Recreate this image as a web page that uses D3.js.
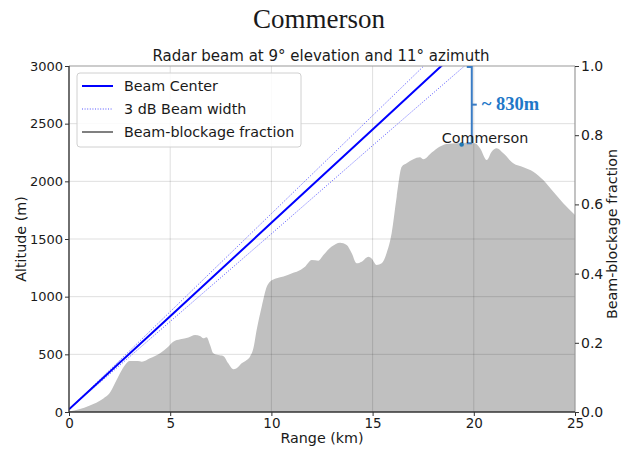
<!DOCTYPE html>
<html>
<head>
<meta charset="utf-8">
<script src="https://cdn.jsdelivr.net/npm/d3@7"></script>
<style>
  html, body { margin: 0; padding: 0; background: #fff; }
  svg text { font-family: "DejaVu Sans", sans-serif; fill: #1a1a1a; }
</style>
</head>
<body>
<svg id="chart" width="633" height="449"></svg>
<script>
// ---------- data ----------
const title = "Commerson";
const subtitle = "Radar beam at 9° elevation and 11° azimuth";

const terrainRange = [0, 1.0, 1.7, 2.0, 2.27, 2.52, 2.77, 3.0, 3.4, 3.6, 4.0, 4.5, 4.9, 5.15, 5.5, 5.9, 6.23, 6.47, 6.64, 6.8, 6.97, 7.13, 7.38, 7.62, 7.87, 8.12, 8.28, 8.53, 8.78, 8.94, 9.11, 9.27, 9.52, 9.77, 9.93, 10.26, 10.6, 11.08, 11.25, 11.66, 11.99, 12.32, 12.57, 12.98, 13.39, 13.72, 13.97, 14.21, 14.46, 14.79, 14.95, 15.2, 15.45, 15.69, 15.94, 16.19, 16.44, 16.68, 17.01, 17.34, 17.51, 17.92, 18.33, 18.66, 19.16, 19.65, 20.06, 20.31, 20.64, 20.88, 21.13, 21.46, 21.95, 22.45, 22.94, 23.43, 23.93, 24.42, 25];
const terrainAlt = [5, 55, 118, 162, 249, 335, 407, 442, 442, 436, 465, 509, 566, 610, 630, 647, 668, 659, 639, 648, 581, 509, 494, 486, 422, 370, 379, 422, 451, 480, 552, 711, 913, 1087, 1130, 1159, 1175, 1208, 1217, 1260, 1318, 1312, 1361, 1434, 1468, 1448, 1376, 1289, 1303, 1347, 1332, 1275, 1289, 1376, 1549, 1867, 2127, 2156, 2191, 2208, 2191, 2249, 2301, 2324, 2330, 2335, 2330, 2287, 2185, 2257, 2287, 2243, 2156, 2122, 2084, 2012, 1910, 1810, 1708];

const beamRange  = [0, 5, 10, 15, 20];
const beamCenter = [23, 830, 1640, 2450, 3260];
const beamUpper  = [23, 870, 1720, 2570, 3420];
const beamLower  = [23, 785, 1545, 2310, 3070];

const xTicks = [0, 5, 10, 15, 20, 25];
const yTicks = [0, 500, 1000, 1500, 2000, 2500, 3000];
const y2Ticks = [0, 0.2, 0.4, 0.6, 0.8, 1.0];

const legendLabels = ["Beam Center", "3 dB Beam width", "Beam-blockage fraction"];

const peakName = "Commerson";
const peakPoint = [19.4, 2320];           // range km, altitude m
const gapRange = 19.9;                    // where the gap is measured
const gapTop = 3000, gapBottom = 2330;
const gapLabel = "~ 830m";

// ---------- layout ----------
const svg = d3.select("#chart");
const X0 = 69, X1 = 575, Y0 = 66, Y1 = 412;
const x = d3.scaleLinear().domain([0, 25]).range([X0, X1]);
const y = d3.scaleLinear().domain([0, 3000]).range([Y1, Y0]);
const y2 = d3.scaleLinear().domain([0, 1]).range([Y1, Y0]);

svg.append("defs").append("clipPath").attr("id", "clip")
  .append("rect").attr("x", X0).attr("y", Y0).attr("width", X1 - X0).attr("height", Y1 - Y0);

// terrain
const terrain = terrainRange.map((r, i) => [r, terrainAlt[i]]);
svg.append("path").datum(terrain)
  .attr("clip-path", "url(#clip)")
  .attr("fill", "#c0c0c0")
  .attr("d", d3.area().x(d => x(d[0])).y0(y(0)).y1(d => y(d[1])).curve(d3.curveMonotoneX));

// grid
const grid = svg.append("g").attr("stroke", "rgba(0,0,0,0.13)").attr("stroke-width", 1);
xTicks.filter(t => t > 0 && t < 25).forEach(t => {
  grid.append("line").attr("x1", x(t)).attr("x2", x(t)).attr("y1", Y0).attr("y2", Y1);
});
yTicks.filter(t => t > 0 && t < 3000).forEach(t => {
  grid.append("line").attr("x1", X0).attr("x2", X1).attr("y1", y(t)).attr("y2", y(t));
});

// beams
const beamLine = d3.line().x(d => x(d[0])).y(d => y(d[1]));
const mk = arr => beamRange.map((r, i) => [r, arr[i]]);
const beams = svg.append("g").attr("clip-path", "url(#clip)");
beams.append("path").datum(mk(beamUpper)).attr("d", beamLine)
  .attr("fill", "none").attr("stroke", "#4444ff").attr("stroke-width", 0.9).attr("stroke-dasharray", "1,1.6");
beams.append("path").datum(mk(beamLower)).attr("d", beamLine)
  .attr("fill", "none").attr("stroke", "#4444ff").attr("stroke-width", 0.9).attr("stroke-dasharray", "1,1.6");
beams.append("path").datum(mk(beamCenter)).attr("d", beamLine)
  .attr("fill", "none").attr("stroke", "#0000ff").attr("stroke-width", 2);

// spines
svg.append("line").attr("x1", X0).attr("x2", X1).attr("y1", Y0).attr("y2", Y0).attr("stroke", "#9a9a9a").attr("stroke-width", 1.2);
svg.append("line").attr("x1", X1).attr("x2", X1).attr("y1", Y0).attr("y2", Y1).attr("stroke", "#9a9a9a").attr("stroke-width", 1.2);
svg.append("line").attr("x1", X0).attr("x2", X0).attr("y1", Y0).attr("y2", Y1 + 0.5).attr("stroke", "#333").attr("stroke-width", 1.4);
svg.append("line").attr("x1", X0).attr("x2", X1).attr("y1", Y1).attr("y2", Y1).attr("stroke", "#333").attr("stroke-width", 1.6);

// axes
const styleAxis = g => {
  g.select(".domain").remove();
  g.selectAll(".tick line").attr("stroke", "#333");
  g.selectAll(".tick text").attr("fill", "#1a1a1a").attr("font-family", "DejaVu Sans, sans-serif");
};
svg.append("g").attr("transform", `translate(0,${Y1})`)
  .call(d3.axisBottom(x).tickValues(xTicks).tickFormat(d3.format("d")).tickSize(4).tickPadding(2))
  .call(styleAxis).selectAll("text").attr("font-size", 13.5);
svg.append("g").attr("transform", `translate(${X0},0)`)
  .call(d3.axisLeft(y).tickValues(yTicks).tickFormat(d3.format("d")).tickSize(4).tickPadding(2))
  .call(styleAxis).selectAll("text").attr("font-size", 13);
svg.append("g").attr("transform", `translate(${X1},0)`)
  .call(d3.axisRight(y2).tickValues(y2Ticks).tickFormat(d3.format(".1f")).tickSize(4).tickPadding(2))
  .call(styleAxis).selectAll("text").attr("font-size", 14);

// axis labels
svg.append("text").attr("x", (X0 + X1) / 2).attr("y", 443).attr("text-anchor", "middle")
  .attr("font-size", 14.3).text("Range (km)");
svg.append("text").attr("transform", `translate(26,${(Y0 + Y1) / 2}) rotate(-90)`).attr("text-anchor", "middle")
  .attr("font-size", 14.3).text("Altitude (m)");
svg.append("text").attr("transform", `translate(617,${(Y0 + Y1) / 2 - 5}) rotate(-90)`).attr("text-anchor", "middle")
  .attr("font-size", 14.3).text("Beam-blockage fraction");

// titles
svg.append("text").attr("x", 321).attr("y", 61).attr("text-anchor", "middle")
  .attr("font-size", 15).text(subtitle);
svg.append("text").attr("x", 319).attr("y", 28).attr("text-anchor", "middle")
  .attr("font-size", 27).style("font-family", "'Liberation Serif', 'Times New Roman', serif").attr("fill", "#000").text(title);

// annotation
const annC = "#3a7cc4";
const gx = x(gapRange);
const ann = svg.append("g").attr("stroke", annC).attr("stroke-width", 2).attr("fill", "none");
ann.append("line").attr("x1", gx).attr("x2", gx).attr("y1", y(gapTop)).attr("y2", y(gapBottom));
ann.append("line").attr("x1", gx - 5).attr("x2", gx).attr("y1", y(gapTop) + 1).attr("y2", y(gapTop) + 1);
ann.append("line").attr("x1", gx - 5).attr("x2", gx).attr("y1", y(gapBottom)).attr("y2", y(gapBottom));
ann.append("line").attr("x1", gx).attr("x2", gx + 5).attr("y1", y((gapTop + gapBottom) / 2)).attr("y2", y((gapTop + gapBottom) / 2));
svg.append("text").attr("x", gx + 10).attr("y", y((gapTop + gapBottom) / 2) + 5)
  .style("font-family", "'Liberation Serif', 'Times New Roman', serif").attr("font-weight", "bold")
  .attr("font-size", 18.5).style("fill", "#1f78c8").text(gapLabel);

svg.append("circle").attr("cx", x(peakPoint[0])).attr("cy", y(peakPoint[1])).attr("r", 2.3).attr("fill", "#1f77b4");
svg.append("text").attr("x", 485).attr("y", 143).attr("text-anchor", "middle")
  .attr("font-size", 14.3).text(peakName);

// legend
const lg = svg.append("g");
lg.append("rect").attr("x", 77).attr("y", 73).attr("width", 224).attr("height", 74).attr("rx", 3)
  .attr("fill", "rgba(255,255,255,0.85)").attr("stroke", "#d0d0d0").attr("stroke-width", 1);
const rowsY = [86, 109, 132];
const sampleStyles = [
  { c: "#0000ff", w: 2, dash: null },
  { c: "#5555ff", w: 1, dash: "1,1.6" },
  { c: "#808080", w: 2, dash: null }
];
legendLabels.forEach((lab, i) => {
  const s = sampleStyles[i];
  const l = lg.append("line").attr("x1", 82).attr("x2", 113).attr("y1", rowsY[i]).attr("y2", rowsY[i])
    .attr("stroke", s.c).attr("stroke-width", s.w);
  if (s.dash) l.attr("stroke-dasharray", s.dash);
  lg.append("text").attr("x", 124).attr("y", rowsY[i] + 5).attr("font-size", 14.3).text(lab);
});
</script>
</body>
</html>
